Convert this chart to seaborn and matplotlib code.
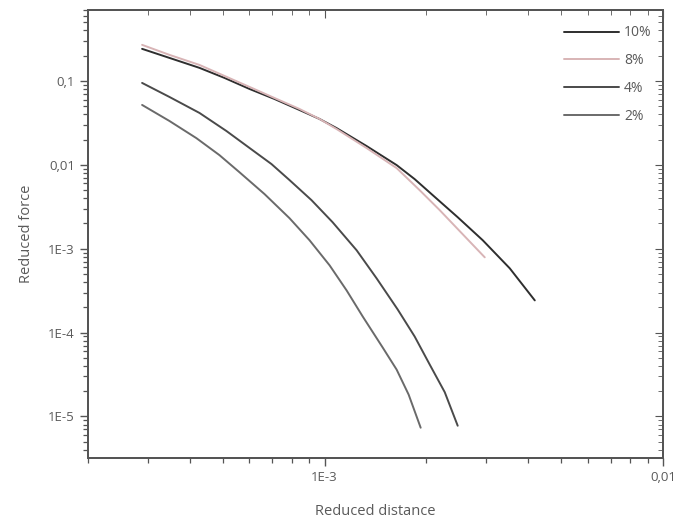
import numpy as np
import pandas as pd
import matplotlib
matplotlib.use("Agg")
import matplotlib.pyplot as plt
import seaborn as sns
from matplotlib.ticker import FixedLocator, FixedFormatter, LogLocator, NullFormatter

# ---- data ----
x_10 = [2.89e-4, 3.48e-4, 4.27e-4, 5.06e-4, 6.00e-4, 7.11e-4, 8.43e-4, 9.66e-4, 1.085e-3,
        1.331e-3, 1.633e-3, 1.846e-3, 2.087e-3, 2.474e-3, 2.934e-3, 3.526e-3, 4.18e-3]
y_10 = [0.241, 0.188, 0.143, 0.1086, 0.0802, 0.0609, 0.0450, 0.0352, 0.0274,
        0.01673, 0.00992, 0.00675, 0.00435, 0.002372, 0.00126, 5.83e-4, 2.42e-4]

x_8 = [2.89e-4, 3.48e-4, 4.27e-4, 5.06e-4, 6.00e-4, 7.11e-4, 8.43e-4, 9.66e-4, 1.085e-3,
       1.331e-3, 1.633e-3, 1.910e-3, 2.189e-3, 2.543e-3, 2.974e-3]
y_8 = [0.269, 0.2044, 0.155, 0.1147, 0.0848, 0.0626, 0.0463, 0.0352, 0.0267,
       0.01584, 0.00913, 0.00498, 0.00288, 0.001528, 7.89e-4]

x_4 = [2.89e-4, 3.48e-4, 4.27e-4, 5.13e-4, 6.12e-4, 6.97e-4, 7.88e-4, 9.15e-4, 1.056e-3,
       1.244e-3, 1.425e-3, 1.644e-3, 1.846e-3, 2.045e-3, 2.265e-3, 2.474e-3]
y_4 = [0.0946, 0.0644, 0.0415, 0.02527, 0.01498, 0.01020, 0.00657, 0.00379, 0.00207,
       9.57e-4, 4.43e-4, 1.89e-4, 8.98e-5, 4.16e-5, 1.95e-5, 7.76e-6]

x_2 = [2.89e-4, 3.48e-4, 4.18e-4, 4.89e-4, 5.60e-4, 6.65e-4, 7.88e-4, 9.03e-4, 1.035e-3,
       1.162e-3, 1.296e-3, 1.485e-3, 1.633e-3, 1.772e-3, 1.923e-3]
y_2 = [0.0517, 0.0333, 0.0208, 0.01305, 0.00818, 0.00447, 0.002308, 0.00126, 6.33e-4,
       3.18e-4, 1.558e-4, 6.64e-5, 3.62e-5, 1.822e-5, 7.35e-6]

series_names = ["10%", "8%", "4%", "2%"]
y_tick_values = [1e-5, 1e-4, 1e-3, 1e-2, 1e-1]
y_tick_labels = ["1E-5", "1E-4", "1E-3", "0,01", "0,1"]
x_tick_values = [1e-3, 1e-2]
x_tick_labels = ["1E-3", "0,01"]

frames = []
for name, xs, ys in zip(series_names, [x_10, x_8, x_4, x_2], [y_10, y_8, y_4, y_2]):
    frames.append(pd.DataFrame({"x": xs, "y": ys, "series": name}))
df = pd.concat(frames, ignore_index=True)

sns.set_style("ticks")
plt.rcParams["font.family"] = ["Open Sans", "DejaVu Sans"]

text_col = "#5a5a5a"
axis_col = "#555555"

fig = plt.figure(figsize=(6.73, 5.26), dpi=100)
ax = fig.add_axes([88/673, 1-458/526, (663-88)/673, (458-10)/526])

palette = {"10%": "#2e2e2e", "8%": "#d8b4b6", "4%": "#4a4a4a", "2%": "#6a6a6a"}
sns.lineplot(data=df, x="x", y="y", hue="series", palette=palette, sort=False,
             estimator=None, units="series", linewidth=1.4, ax=ax, legend=True)

ax.set_xscale("log")
ax.set_yscale("log")
ax.set_xlim(2.0e-4, 1e-2)
ax.set_ylim(3.2e-6, 0.7)

ax.yaxis.set_major_locator(FixedLocator(y_tick_values))
ax.yaxis.set_major_formatter(FixedFormatter(y_tick_labels))
ax.yaxis.set_minor_locator(LogLocator(base=10, subs=np.arange(2, 10)))
ax.yaxis.set_minor_formatter(NullFormatter())
ax.xaxis.set_major_locator(FixedLocator(x_tick_values))
ax.xaxis.set_major_formatter(FixedFormatter(x_tick_labels))
ax.xaxis.set_minor_locator(LogLocator(base=10, subs=np.arange(2, 10)))
ax.xaxis.set_minor_formatter(NullFormatter())

ax.tick_params(which="major", direction="out", length=6, width=1.0, colors=axis_col,
               labelcolor=text_col, labelsize=9.5)
ax.tick_params(which="minor", direction="out", length=3.5, width=0.9, colors=axis_col)
for sp in ax.spines.values():
    sp.set_color(axis_col)
    sp.set_linewidth(1.2)

# mirrored inward ticks on top and right
axt = ax.twiny()
axt.set_xscale("log")
axt.set_xlim(ax.get_xlim())
axt.xaxis.set_major_locator(FixedLocator(x_tick_values))
axt.xaxis.set_minor_locator(LogLocator(base=10, subs=np.arange(2, 10)))
axt.tick_params(which="both", direction="in", labeltop=False, colors=axis_col)
axt.tick_params(which="major", length=6)
axt.tick_params(which="minor", length=3.5)
axr = ax.twinx()
axr.set_yscale("log")
axr.set_ylim(ax.get_ylim())
axr.yaxis.set_major_locator(FixedLocator(y_tick_values))
axr.yaxis.set_minor_locator(LogLocator(base=10, subs=np.arange(2, 10)))
axr.tick_params(which="both", direction="in", labelright=False, colors=axis_col)
axr.tick_params(which="major", length=6)
axr.tick_params(which="minor", length=3.5)
for a in (axt, axr):
    for sp in a.spines.values():
        sp.set_color(axis_col)
        sp.set_linewidth(1.2)

ax.set_xlabel("Reduced distance", fontsize=10.5, color=text_col, labelpad=14)
ax.set_ylabel("Reduced force", fontsize=10.5, color=text_col, labelpad=10)

# legend: handle left, label right, no frame
handles, labels = ax.get_legend_handles_labels()
leg = ax.legend(handles, labels, loc="upper right", bbox_to_anchor=(0.99, 0.978),
                frameon=False, fontsize=10, handlelength=3.9, handletextpad=0.4,
                labelspacing=0.92, borderaxespad=0.0)
for t in leg.get_texts():
    t.set_color(text_col)

fig.savefig("out.png", dpi=100)
